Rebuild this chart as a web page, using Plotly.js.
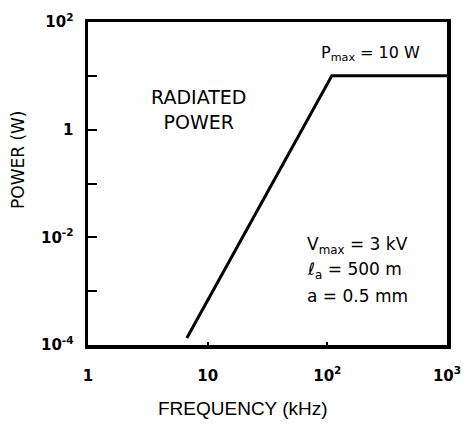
<!DOCTYPE html>
<html>
<head>
<meta charset="utf-8">
<script src="https://cdn.plot.ly/plotly-3.0.1.min.js"></script>
<style>html,body{margin:0;padding:0;background:#fff;}#chart{width:468px;height:424px;}</style>
</head>
<body>
<div id="chart"></div>
<script>
// Data
var frequency_kHz = [6.7, 109, 1000];
var power_W = [1.35e-4, 10, 10];

var xTickVals = [1, 10, 100, 1000];
var xTickText = ["1", "10", "10<sup>2</sup>", "10<sup>3</sup>"];
var yTickVals = [1e-4, 1e-2, 1, 100];
var yTickText = ["10<sup>-4</sup>", "10<sup>-2</sup>", "1", "10<sup>2</sup>"];
var yMinorTickVals = [1e-3, 1e-1, 10];

var xTitle = "FREQUENCY (kHz)";
var yTitle = "POWER (W)";
var labelRadiated = "RADIATED<br>POWER";
var labelPmax = "P<sub>max</sub> = 10 W";
var paramLines = ["V<sub>max</sub> = 3 kV", "ℓ<sub>a</sub> = 500 m", "a = 0.5 mm"];

var FONT = "DejaVu Sans, Arial, sans-serif";

var trace = {
  x: frequency_kHz,
  y: power_W,
  type: "scatter",
  mode: "lines",
  line: {color: "#000", width: 3},
  hoverinfo: "skip",
  showlegend: false
};

var annotations = [
  {text: labelRadiated, xref: "paper", yref: "paper", x: 0.309, y: 0.728,
   xanchor: "center", yanchor: "middle", showarrow: false,
   font: {family: FONT, size: 19, color: "#000"}},
  {text: labelPmax, xref: "paper", yref: "paper", x: 0.643, y: 0.904,
   xanchor: "left", yanchor: "middle", showarrow: false,
   font: {family: FONT, size: 16, color: "#000"}},
  {text: xTitle, xref: "paper", yref: "paper", x: (243 - 88) / 359, y: (345 - 408) / 323,
   xanchor: "center", yanchor: "middle", showarrow: false,
   font: {family: "Liberation Sans, Arial, sans-serif", size: 19, color: "#000"}},
  {text: yTitle, xref: "paper", yref: "paper", x: (18 - 88) / 359, y: (345 - 160) / 323,
   xanchor: "center", yanchor: "middle", textangle: -90, showarrow: false,
   font: {family: FONT, size: 17, color: "#000"}}
];
var paramY = [245, 270.5, 296];
for (var i = 0; i < paramLines.length; i++) {
  annotations.push({text: paramLines[i], xref: "paper", yref: "paper",
    x: (305 - 88) / 359, y: (345 - paramY[i]) / 323,
    xanchor: "left", yanchor: "middle", showarrow: false,
    font: {family: FONT, size: 17, color: "#000"}});
}

var layout = {
  width: 468, height: 424,
  margin: {l: 88, r: 21, t: 22, b: 79, pad: 0},
  paper_bgcolor: "#fff", plot_bgcolor: "#fff",
  showlegend: false,
  xaxis: {
    type: "log", range: [0, 3],
    tickmode: "array", tickvals: xTickVals, ticktext: xTickText,
    ticks: "inside", ticklen: 3, tickwidth: 2, tickcolor: "#000",
    showline: true, linewidth: 3.5, linecolor: "#000", mirror: true,
    showgrid: false, zeroline: false,
    ticklabelstandoff: 14,
    tickfont: {family: FONT, size: 15, color: "#000", weight: "bold"}
  },
  yaxis: {
    type: "log", range: [-4, 2],
    tickmode: "array", tickvals: yTickVals, ticktext: yTickText,
    ticks: "inside", ticklen: 9, tickwidth: 2, tickcolor: "#000",
    minor: {tickmode: "array", tickvals: yMinorTickVals, ticks: "inside",
            ticklen: 9, tickwidth: 2, tickcolor: "#000", showgrid: false},
    showline: true, linewidth: 3.5, linecolor: "#000", mirror: true,
    showgrid: false, zeroline: false,
    ticklabelstandoff: 8,
    tickfont: {family: FONT, size: 15, color: "#000", weight: "bold"}
  },
  annotations: annotations
};

Plotly.newPlot("chart", [trace], layout, {displayModeBar: false, staticPlot: true});
</script>
</body>
</html>
